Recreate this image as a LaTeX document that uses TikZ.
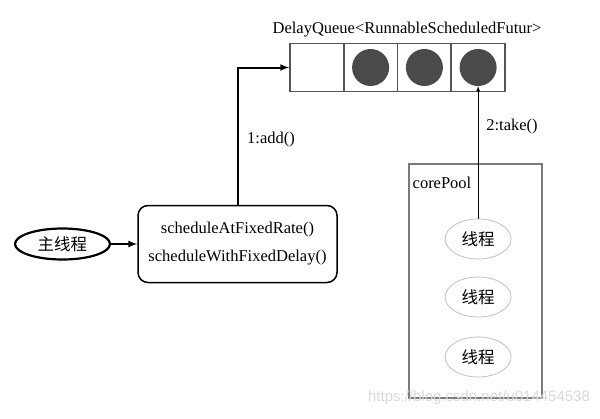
\documentclass[tikz,border=0pt]{standalone}
\usepackage{fontspec}
\setmainfont{Liberation Serif}
\newfontfamily\cjk{Noto Sans CJK SC}
\newfontfamily\wmfont{Liberation Sans}
\usetikzlibrary{shapes.geometric, arrows}
\definecolor{queuegray}{HTML}{555555}
\definecolor{dotgray}{HTML}{4A4A4A}
\definecolor{poolgray}{HTML}{7A7A7A}
\tikzstyle{cell} = [
    rectangle,
    minimum width=53.75pt,
    minimum height=48pt,
    draw=queuegray,
    line width=1.8pt
]
\tikzstyle{task} = [
    circle,
    minimum size=37pt,
    inner sep=0pt,
    fill=dotgray
]
\tikzstyle{method} = [
    rectangle,
    rounded corners=10pt,
    minimum width=199pt,
    minimum height=77pt,
    align=center,
    draw=black,
    line width=1.5pt
]
\tikzstyle{mainthread} = [
    ellipse,
    minimum width=95pt,
    minimum height=31pt,
    inner sep=0pt,
    draw=black,
    line width=2.2pt
]
\tikzstyle{worker} = [
    ellipse,
    minimum width=66pt,
    minimum height=40pt,
    inner sep=0pt,
    draw=gray!55,
    line width=0.7pt
]
\tikzstyle{pool} = [
    rectangle,
    minimum width=133pt,
    minimum height=234pt,
    draw=poolgray,
    line width=2.4pt
]
\tikzstyle{arrow} = [line width=2pt,->,>=latex]
\tikzstyle{thinarrow} = [line width=0.8pt,->,>=latex]

\begin{document}
\begin{tikzpicture}[x=1pt, y=-1pt,
    every node/.style={font=\fontsize{16.5}{28}\selectfont}]

\useasboundingbox (0,0) rectangle (600,418);

\node (title) at (407,30) {DelayQueue<RunnableScheduledFutur>};

\node (cell1) [cell] at (316.9,67.5) {};
\node (cell2) [cell] at (370.6,67.5) {};
\node (cell3) [cell] at (424.4,67.5) {};
\node (cell4) [cell] at (478.1,67.5) {};

\node (dot2) [task] at (cell2) {};
\node (dot3) [task] at (cell3) {};
\node (dot4) [task] at (cell4) {};

\node (main) [mainthread] at (62.5,244) {\cjk 主线程};

\node (sched) [method] at (237.5,244)
{scheduleAtFixedRate()\\scheduleWithFixedDelay()};

\node (pool) [pool] at (475.5,281) {};
\node (poollabel) at (442,183) {corePool};

\node (t1) [worker] at (478.1,239) {\cjk 线程};
\node (t2) [worker] at (478.1,297) {\cjk 线程};
\node (t3) [worker] at (478.1,357) {\cjk 线程};

\node (add) at (271,140) {1:add()};
\node (take) at (512,127) {2:take()};

\draw [arrow] (main) -- (sched);
\draw [arrow] (sched.north) |- (cell1.west);
\draw [thinarrow] (t1.north) -- (dot4.south);

\node (wm) [text=gray!30] at (479,398)
{\wmfont\fontsize{15}{18}\selectfont https://blog.csdn.net/u014454538};

\end{tikzpicture}
\end{document}
